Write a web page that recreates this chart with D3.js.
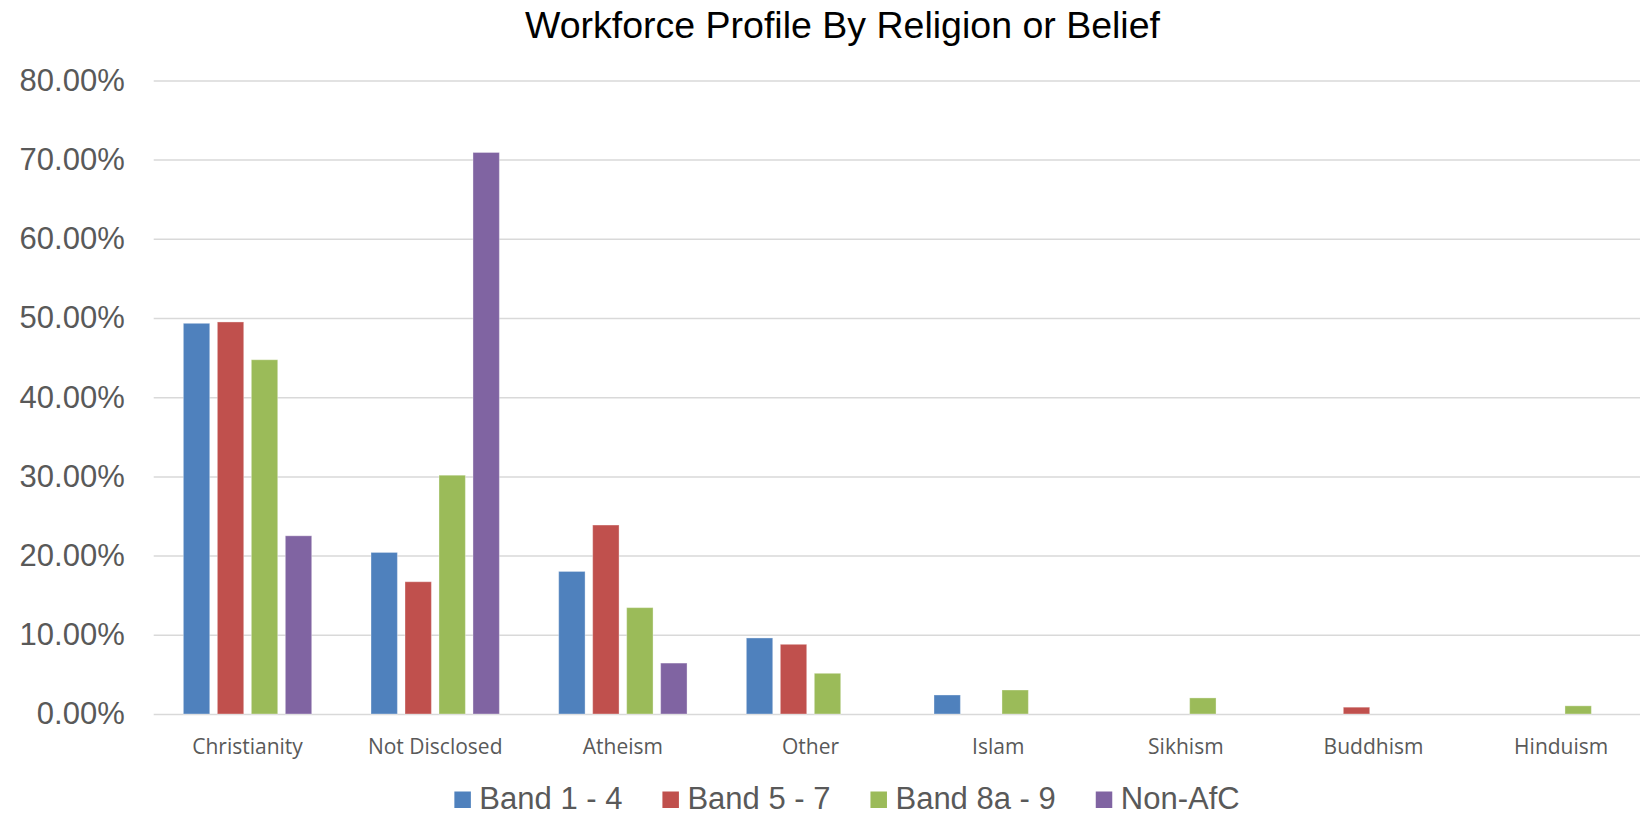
<!DOCTYPE html>
<html>
<head>
<meta charset="utf-8">
<script src="https://cdn.jsdelivr.net/npm/d3@7"></script>
<style>
  html, body { margin: 0; padding: 0; background: #fff; }
  svg { display: block; }
</style>
</head>
<body>
<svg id="chart" width="1640" height="816"></svg>
<script>
const categories = ["Christianity", "Not Disclosed", "Atheism", "Other", "Islam", "Sikhism", "Buddhism", "Hinduism"];
const seriesNames = ["Band 1 - 4", "Band 5 - 7", "Band 8a - 9", "Non-AfC"];
const band14  = [49.33, 20.4, 18.0, 9.6, 2.4, 0, 0, 0];
const band57  = [49.5, 16.7, 23.86, 8.8, 0, 0, 0.86, 0];
const band8a9 = [44.73, 30.15, 13.43, 5.14, 3.03, 2.03, 0, 1.03];
const nonAfC  = [22.5, 70.9, 6.43, 0, 0, 0, 0, 0];
const yTicks = [0, 10, 20, 30, 40, 50, 60, 70, 80];
const chartTitle = "Workforce Profile By Religion or Belief";
const colors = ["#4f81bd", "#c0504d", "#9bbb59", "#8064a2"];

const seriesValues = [band14, band57, band8a9, nonAfC];

const svg = d3.select("#chart");
const plotLeft = 153.7, plotRight = 1655, plotTop = 80.4, plotBottom = 714;

const y = d3.scaleLinear().domain([0, 80]).range([plotBottom, plotTop]);
const x0 = d3.scaleBand().domain(categories).range([plotLeft, plotRight])
  .paddingInner(0.316).paddingOuter(0.158);
const x1 = d3.scaleBand().domain(seriesNames).range([0, x0.bandwidth()])
  .paddingInner(0.2235).paddingOuter(0);

// Title
svg.append("text")
  .attr("x", 842.5).attr("y", 37.8)
  .attr("text-anchor", "middle")
  .attr("font-family", "Liberation Sans, Arial, sans-serif")
  .attr("font-size", 37.5)
  .attr("fill", "#000")
  .text(chartTitle);

// Gridlines + y labels
const yAxis = d3.axisLeft(y).tickValues(yTicks).tickSize(-(plotRight - plotLeft))
  .tickFormat(d => d3.format(".2f")(d) + "%").tickPadding(29);
const gy = svg.append("g").attr("transform", `translate(${plotLeft},0)`).call(yAxis);
gy.select(".domain").remove();
gy.selectAll(".tick line").attr("stroke", "#d9d9d9").attr("stroke-width", 1.5);
gy.selectAll(".tick text")
  .attr("font-family", "Liberation Sans, Arial, sans-serif")
  .attr("font-size", 31)
  .attr("fill", "#595959");

// Bars
const data = [];
categories.forEach((c, i) => {
  seriesNames.forEach((s, j) => {
    const v = seriesValues[j][i];
    if (v > 0) data.push({ c, s, v, color: colors[j] });
  });
});
svg.append("g").selectAll("rect").data(data).join("rect")
  .attr("x", d => x0(d.c) + x1(d.s))
  .attr("y", d => y(d.v))
  .attr("width", x1.bandwidth())
  .attr("height", d => y(0) - y(d.v))
  .attr("fill", d => d.color)
  .attr("stroke", "#ffffff")
  .attr("stroke-opacity", 0.35)
  .attr("stroke-width", 1);

// X axis labels
const xAxis = d3.axisBottom(x0).tickSize(0).tickPadding(0);
const gx = svg.append("g").attr("transform", `translate(0,${plotBottom})`).call(xAxis);
gx.select(".domain").remove();
gx.selectAll(".tick text")
  .attr("y", 40).attr("dy", 0)
  .attr("font-family", "Open Sans, sans-serif")
  .attr("font-size", 21)
  .attr("fill", "#595959");

// Legend
const legend = svg.append("g");
const items = [];
seriesNames.forEach((s, j) => {
  const g = legend.append("g");
  g.append("rect").attr("x", 0).attr("y", 791.5).attr("width", 16.5).attr("height", 16.5).attr("fill", colors[j]);
  const t = g.append("text").attr("x", 25).attr("y", 809)
    .attr("font-family", "Liberation Sans, Arial, sans-serif")
    .attr("font-size", 31).attr("fill", "#595959").text(s);
  const w = t.node().getComputedTextLength();
  items.push({ g, w: 25 + w });
});
const gap = 40;
const total = d3.sum(items, d => d.w) + gap * (items.length - 1);
let cx = 847 - total / 2;
items.forEach(it => { it.g.attr("transform", `translate(${cx},0)`); cx += it.w + gap; });
</script>
</body>
</html>
